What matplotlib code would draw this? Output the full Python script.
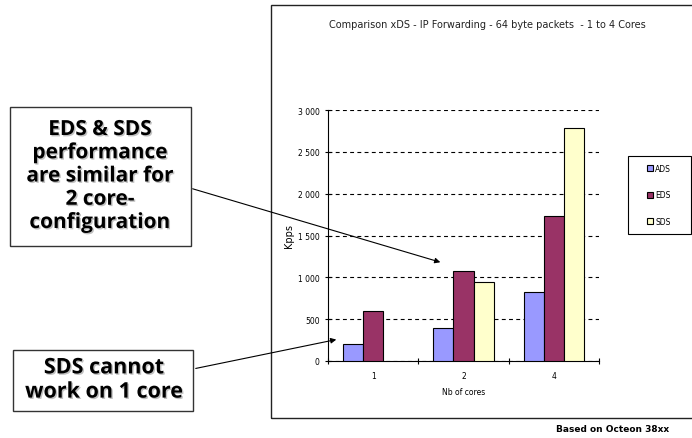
import numpy as np
import matplotlib
matplotlib.use('Agg')
import matplotlib.pyplot as plt
import matplotlib.patheffects as pe
from matplotlib.patches import Rectangle, FancyArrowPatch
from matplotlib.ticker import FuncFormatter

cores = ['1', '2', '4']
series = ['ADS', 'EDS', 'SDS']
ads = [200, 400, 830]
eds = [600, 1080, 1730]
sds = [np.nan, 940, 2780]   # SDS does not run on a single core
colors = ['#9999FF', '#993366', '#FFFFCC']

W, H = 692, 439

def fx(x):
    return x / W

def fy(y):
    return (H - y) / H

fig = plt.figure(figsize=(W / 100, H / 100), dpi=100)
fig.patch.set_facecolor('white')

# chart frame on the right
fig.add_artist(Rectangle((fx(271), fy(419)), fx(700) - fx(271), fy(6) - fy(419),
                         transform=fig.transFigure, fill=False,
                         edgecolor='#222222', linewidth=1.0))

ax = fig.add_axes([fx(328), fy(362), (599 - 328) / W, (362 - 111) / H])
x = np.arange(len(cores))
w = 0.222
for i, (vals, c) in enumerate(zip([ads, eds, sds], colors)):
    ax.bar(x + (i - 1) * w, vals, width=w, color=c, edgecolor='black',
           linewidth=0.8, label=series[i], zorder=3)

ax.set_xlim(-0.5, 2.5)
ax.set_ylim(0, 3000)
ax.set_yticks(np.arange(0, 3001, 500))
ax.yaxis.set_major_formatter(FuncFormatter(lambda v, p: f'{v:,.0f}'.replace(',', ' ')))
ax.yaxis.grid(True, linestyle=(0, (3.5, 3)), color='black', linewidth=0.8)
ax.set_axisbelow(True)

ax.set_xticks(x)
ax.set_xticklabels(cores)
ax.set_xticks([-0.5, 0.5, 1.5, 2.5], minor=True)
ax.tick_params(axis='x', which='major', length=0, labelsize=5.5, pad=7)
ax.tick_params(axis='x', which='minor', length=4, direction='inout', width=0.8)
ax.tick_params(axis='y', length=4, direction='inout', width=0.8, labelsize=5.5, pad=4)

for s in ['top', 'right']:
    ax.spines[s].set_visible(False)
for s in ['left', 'bottom']:
    ax.spines[s].set_linewidth(0.8)

ax.set_xlabel('Nb of cores', fontsize=5.5, labelpad=5)
ax.set_ylabel('Kpps', fontsize=7, labelpad=3)

fig.text(fx(487), fy(25), 'Comparison xDS - IP Forwarding - 64 byte packets  - 1 to 4 Cores',
         fontsize=7, ha='center', va='center', color='#222222')

# legend box
fig.add_artist(Rectangle((fx(628), fy(235)), fx(691) - fx(628), fy(157) - fy(235),
                         transform=fig.transFigure, fill=False,
                         edgecolor='black', linewidth=0.8))
handles, labels = ax.get_legend_handles_labels()
fig.legend(handles, labels, loc='center', bbox_to_anchor=(fx(659), fy(196)),
           frameon=False, fontsize=5.5, handlelength=0.8, handleheight=0.8,
           handletextpad=0.3, labelspacing=2.3)

fig.text(fx(613), fy(430), 'Based on Octeon 38xx', fontsize=6.5,
         fontweight='bold', ha='center', va='center')

# callout boxes
shadow = [pe.withSimplePatchShadow(offset=(1, -1), shadow_rgbFace='#999999', alpha=0.6)]
bold = dict(family='Open Sans', fontweight='bold', ha='center', va='center',
            path_effects=shadow)
fig.add_artist(Rectangle((fx(10), fy(247)), fx(191) - fx(10), fy(108) - fy(247),
                         transform=fig.transFigure, fill=False,
                         edgecolor='#333333', linewidth=1.0))
fig.text(fx(100), fy(177), 'EDS & SDS\nperformance\nare similar for\n2 core-\nconfiguration',
         fontsize=15, linespacing=1.14, **bold)

fig.add_artist(Rectangle((fx(13), fy(412)), fx(193) - fx(13), fy(351) - fy(412),
                         transform=fig.transFigure, fill=False,
                         edgecolor='#333333', linewidth=1.0))
fig.text(fx(104), fy(381), 'SDS cannot\nwork on 1 core', fontsize=15.5,
         linespacing=1.2, **bold)

for a, b in [((190, 189), (443, 264)), ((193, 370), (339, 340))]:
    fig.add_artist(FancyArrowPatch((fx(a[0]), fy(a[1])), (fx(b[0]), fy(b[1])),
                                   transform=fig.transFigure, arrowstyle='-|>',
                                   mutation_scale=8, color='black', linewidth=0.8))

fig.savefig('out.png', dpi=100)
